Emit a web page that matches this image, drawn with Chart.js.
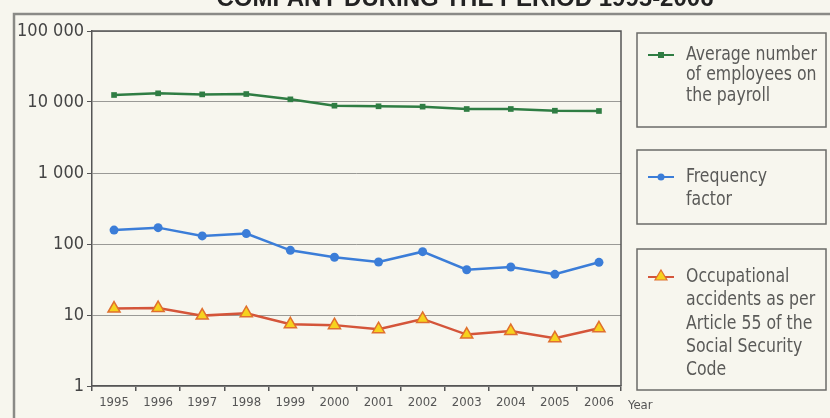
<!DOCTYPE html>
<html>
<head>
<meta charset="utf-8">
<script src="https://cdn.jsdelivr.net/npm/chart.js@4.4.1/dist/chart.umd.min.js"></script>
<style>
  html, body { margin: 0; padding: 0; background: #f7f6ee; }
  #wrap { width: 830px; height: 418px; position: relative; }
</style>
</head>
<body>
<div id="wrap"><canvas id="mycanvas" width="830" height="418"></canvas></div>
<script>
var years = ['1995','1996','1997','1998','1999','2000','2001','2002','2003','2004','2005','2006'];
var employees = [12550, 13250, 12800, 12950, 10900, 8870, 8700, 8600, 7970, 7970, 7540, 7470];
var frequency = [157, 170, 130, 140, 81.5, 65, 55.8, 78, 43.4, 47.4, 37.4, 55.2];
var accidents = [12.3, 12.5, 9.8, 10.6, 7.4, 7.2, 6.3, 8.8, 5.3, 5.95, 4.7, 6.5];
var yTicks = [1, 10, 100, 1000, 10000, 100000];
var titleText = 'COMPANY DURING THE PERIOD 1995-2006';
var legendTexts = [
  ['Average number', 'of employees on', 'the payroll'],
  ['Frequency', 'factor'],
  ['Occupational', 'accidents as per', 'Article 55 of the', 'Social Security', 'Code']
];

var FONT = "'Liberation Sans Narrow', 'DejaVu Sans Condensed', sans-serif";
var green = '#2f7d43', blue = '#3b7dd8', red = '#d4553a', yellow = '#f6d21e';

function fmt(v) {
  return String(v).replace(/\B(?=(\d{3})+(?!\d))/g, ' ');
}

// frame, title, plot border and the three legend boxes
var decor = {
  id: 'decor',
  beforeDraw: function(chart) {
    var c = chart.ctx;
    c.save();
    c.fillStyle = '#f7f6ee';
    c.fillRect(0, 0, chart.width, chart.height);
    c.fillStyle = '#222';
    c.font = "bold 24px 'Liberation Sans', Arial, sans-serif";
    c.textAlign = 'center';
    c.textBaseline = 'alphabetic';
    c.fillText(titleText, 465, 6);
    c.strokeStyle = '#8a8a86';
    c.lineWidth = 2.5;
    c.strokeRect(14, 14, 840, 500);
    c.restore();
  },
  afterDraw: function(chart) {
    var c = chart.ctx, a = chart.chartArea;
    c.save();
    c.strokeStyle = '#555';
    c.lineWidth = 1.5;
    c.beginPath();
    c.moveTo(a.left, a.top); c.lineTo(a.right, a.top); c.lineTo(a.right, a.bottom);
    c.stroke();

    var boxes = [
      {y: 33, h: 94, color: green, marker: 'rect', ty: 55},
      {y: 150, h: 74, color: blue, marker: 'circle', ty: 177},
      {y: 249, h: 141, color: red, marker: 'triangle', ty: 277}
    ];
    boxes.forEach(function(b, i) {
      c.strokeStyle = '#6b6b68';
      c.lineWidth = 1.5;
      c.strokeRect(637, b.y, 189, b.h);
      var my = b.ty;
      c.strokeStyle = b.color;
      c.lineWidth = 2;
      c.beginPath(); c.moveTo(648, my); c.lineTo(674, my); c.stroke();
      if (b.marker === 'rect') {
        c.fillStyle = green; c.fillRect(658, my - 3, 6, 6);
      } else if (b.marker === 'circle') {
        c.fillStyle = blue; c.beginPath(); c.arc(661, my, 3.5, 0, Math.PI * 2); c.fill();
      } else {
        c.fillStyle = yellow; c.strokeStyle = '#e0702e'; c.lineWidth = 1.2;
        c.beginPath(); c.moveTo(661, my - 7); c.lineTo(667, my + 3); c.lineTo(655, my + 3); c.closePath();
        c.fill(); c.stroke();
      }
      c.fillStyle = '#5a5a58';
      c.font = '19px ' + FONT;
      c.textAlign = 'left';
      c.textBaseline = 'middle';
      var lh = i === 0 ? 20.5 : 23.3;
      legendTexts[i].forEach(function(t, k) {
        c.save();
        c.translate(686, b.ty + k * lh);
        c.scale(0.92, 1);
        c.fillText(t, 0, 0);
        c.restore();
      });
    });

    c.fillStyle = '#555';
    c.font = '13px ' + FONT;
    c.textAlign = 'left';
    c.textBaseline = 'middle';
    c.fillText('Year', 628, 406);
    c.restore();
  }
};

var ctx = document.getElementById('mycanvas');
var chart = new Chart(ctx, {
  type: 'line',
  data: {
    labels: years,
    datasets: [
      {
        label: legendTexts[0].join(' '),
        data: employees,
        borderColor: green,
        backgroundColor: green,
        borderWidth: 2.5,
        pointStyle: 'rect',
        pointRadius: 4,
        pointBorderWidth: 0
      },
      {
        label: legendTexts[1].join(' '),
        data: frequency,
        borderColor: blue,
        backgroundColor: blue,
        borderWidth: 2.5,
        pointStyle: 'circle',
        pointRadius: 4.5,
        pointBorderWidth: 0
      },
      {
        label: legendTexts[2].join(' '),
        data: accidents,
        borderColor: red,
        backgroundColor: yellow,
        borderWidth: 2.5,
        pointStyle: 'triangle',
        pointRadius: 7,
        pointBorderColor: '#e0702e',
        pointBorderWidth: 1.5
      }
    ]
  },
  options: {
    responsive: false,
    animation: false,
    events: [],
    layout: { padding: { left: 0, right: 209, top: 31, bottom: 0 } },
    plugins: {
      legend: { display: false },
      tooltip: { enabled: false }
    },
    scales: {
      x: {
        offset: true,
        grid: { offset: true, drawOnChartArea: false, drawTicks: true, tickLength: 5, color: '#555', lineWidth: 1.5 },
        border: { color: '#555', width: 1.5 },
        ticks: { color: '#555', font: { family: FONT, size: 13 }, padding: 4, maxRotation: 0, autoSkip: false },
        afterFit: function(s) { s.height = 32; }
      },
      y: {
        type: 'logarithmic',
        min: 1,
        max: 100000,
        afterBuildTicks: function(s) {
          s.ticks = yTicks.map(function(v) { return { value: v, major: true }; });
        },
        grid: { color: '#9a9a96', lineWidth: 1, tickLength: 5, tickColor: '#555' },
        border: { color: '#555', width: 1.5 },
        ticks: {
          color: '#444',
          font: { family: FONT, size: 18 },
          padding: 3,
          callback: function(v) { return fmt(v); }
        },
        afterFit: function(s) { s.width = 92; }
      }
    }
  },
  plugins: [decor]
});
</script>
</body>
</html>
